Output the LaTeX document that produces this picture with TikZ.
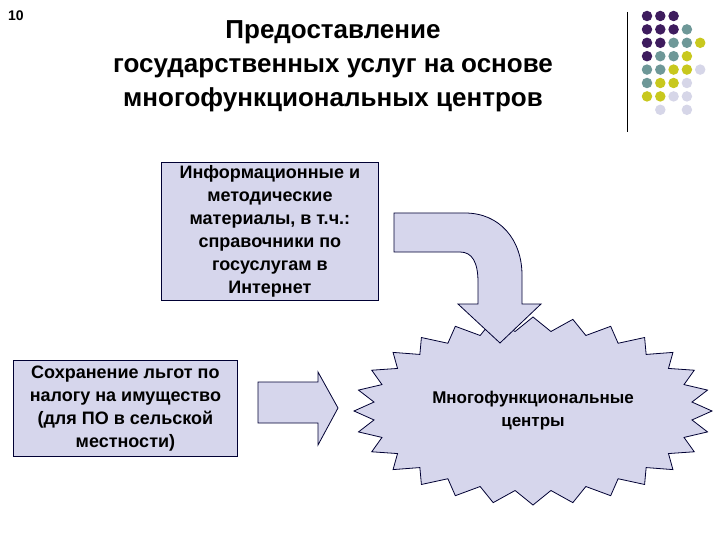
\documentclass[tikz,border=0pt]{standalone}
\usepackage{fontspec}
\setmainfont{Liberation Sans}
\begin{document}
\begin{tikzpicture}[x=1pt,y=-1pt,
  shp/.style={draw=black!80!blue, fill=lav, line width=0.8pt},
  txt/.style={align=center, font=\bfseries\fontsize{18}{23}\selectfont},
  dot/.style={circle, inner sep=0pt, minimum size=10.5pt}]
\definecolor{lav}{RGB}{214,214,236}
\definecolor{dp}{RGB}{62,28,94}
\definecolor{dt}{RGB}{110,152,152}
\definecolor{dy}{RGB}{200,200,30}
\definecolor{dl}{RGB}{214,214,232}
\useasboundingbox (0,0) rectangle (720,540);
\node[font=\bfseries\fontsize{14}{16}\selectfont] (num) at (16,16) {10};
\node[align=center, font=\bfseries\fontsize{26}{34}\selectfont] (title) at (333,66)
  {Предоставление\\государственных услуг на основе\\многофункциональных центров};
\draw (627,12) -- (627,132);
\foreach \row/\cols in {0/{dp,dp,dp},1/{dp,dp,dp,dt},2/{dp,dp,dt,dt,dy},3/{dp,dt,dt,dy},4/{dt,dt,dy,dy,dl},5/{dt,dy,dy,dl},6/{dy,dy,dl,dl}}{
  \foreach \c [count=\i from 0] in \cols {
    \node[dot, fill=\c] (d\row\i) at ({647+13.3*\i},{16+13.4*\row}) {};
  }}
\node[dot, fill=dl] (d71) at (660.3,109.8) {};
\node[dot, fill=dl] (d73) at (686.9,109.8) {};
% star
\foreach \k in {0,...,27}{
  \coordinate (so\k) at ({533+179*cos(\k*360/28)},{411+94*sin(\k*360/28)});
  \coordinate (si\k) at ({533+160*cos((\k+0.5)*360/28)},{411+80*sin((\k+0.5)*360/28)});
}
\draw[shp] (so0) \foreach \k in {0,...,27}{ -- (so\k) -- (si\k) } -- cycle;
\node[txt, font=\bfseries\fontsize{17}{23}\selectfont] (mfc) at (533,411) {Многофункциональные\\центры};
% curved arrow
\draw[shp] (394,213) -- (465,213) .. controls (500,213) and (522,240) .. (522,275) -- (522,304) -- (541,304) -- (500,343) -- (458,304) -- (478,304) -- (478,282) .. controls (478,262) and (472,252) .. (460,252) -- (394,252) -- cycle;
\draw[shp] (258,382) -- (318,382) -- (318,372) -- (338,408) -- (318,445) -- (318,423) -- (258,423) -- cycle;
\node[shp, txt, minimum width=217pt, minimum height=138pt, anchor=north west, inner sep=2pt] (b1) at (161,162)
  {Информационные и\\методические\\материалы, в т.ч.:\\справочники по\\госуслугам в\\Интернет};
\node[shp, txt, minimum width=224pt, minimum height=96pt, anchor=north west, inner sep=2pt] (b2) at (13,360)
  {Сохранение льгот по\\налогу на имущество\\(для ПО в сельской\\местности)};
\end{tikzpicture}
\end{document}
